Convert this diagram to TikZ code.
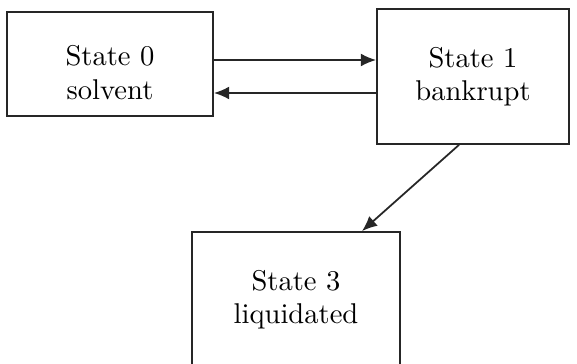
\documentclass[tikz,border=0pt]{standalone}
\usepackage{fontspec}
\setmainfont{lmroman10-regular}[Extension=.otf]
\usetikzlibrary{arrows.meta}
\begin{document}
\begin{tikzpicture}[
    statebox/.style={draw=black!85,line width=1.5pt,align=center,inner sep=0pt,
        font=\fontsize{24.4}{28.5}\selectfont},
    flow/.style={draw=black!85,line width=1.5pt,-{Latex[length=13pt,width=11pt]}}]
    \useasboundingbox (0,0) rectangle (17.31,-10.92);
    \clip (0,0) rectangle (17.31,-10.92);
    \node[statebox,minimum width=6.18cm,minimum height=3.12cm] (S0) at (3.3,-1.92)
        {\raisebox{-0.36cm}[\height][\depth]{\begin{tabular}{@{}c@{}}State 0\\solvent\end{tabular}}};
    \node[statebox,minimum width=5.76cm,minimum height=4.05cm] (S1) at (14.19,-2.295) {State 1\\bankrupt};
    \node[statebox,minimum width=6.24cm,minimum height=4.08cm] (S3) at (8.88,-9.0) {State 3\\liquidated};
    \draw[flow] ([yshift=0.12cm]S0.east) -- ([yshift=0.12cm]S0.east -| S1.west);
    \draw[flow] ([yshift=-0.87cm]S0.east -| S1.west) -- ([yshift=-0.87cm]S0.east);
    \draw[flow] ([xshift=-0.42cm]S1.south) -- ([xshift=1.98cm]S3.north);
\end{tikzpicture}
\end{document}
